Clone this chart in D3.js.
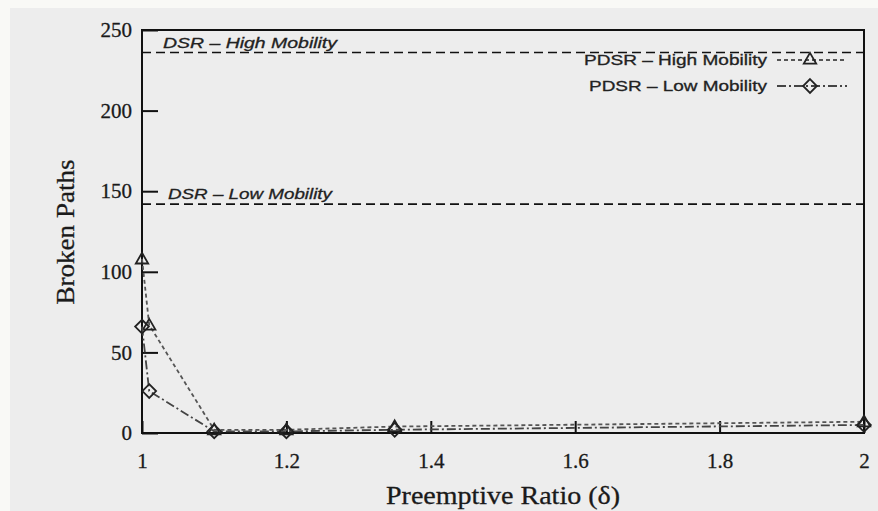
<!DOCTYPE html>
<meta charset="utf-8">
<style>
  body { margin: 0; background: #ededed; }
  svg { display: block; }
</style>
<svg width="878" height="511"></svg>
<script src="https://d3js.org/d3.v7.min.js"></script>
<script>

// values
var ratios   = [1, 1.01, 1.1, 1.2, 1.35, 2];
var pdsrHigh = [108, 67, 2, 2, 4, 7];
var pdsrLow  = [66, 26, 1, 1, 2, 5];
var dsrHigh  = 236;
var dsrLow   = 142;
var xTicks = [1, 1.2, 1.4, 1.6, 1.8, 2];
var yTicks = [0, 50, 100, 150, 200, 250];

var svg = d3.select("svg"),
    margin = {top: 30, right: 14, bottom: 78, left: 142},
    width = +svg.attr("width") - margin.left - margin.right,
    height = +svg.attr("height") - margin.top - margin.bottom;

// paper edge strips
svg.append("rect").attr("width", 878).attr("height", 511).attr("fill", "#ededed");
svg.append("rect").attr("width", 878).attr("height", 8).attr("fill", "#f9f9f6");
svg.append("rect").attr("width", 10).attr("height", 511).attr("fill", "#f9f9f6");

var g = svg.append("g").attr("transform", "translate(" + margin.left + "," + margin.top + ")");

var x = d3.scaleLinear().domain([1, 2]).range([0, width]);
var y = d3.scaleLinear().domain([0, 250]).range([height, 0]);

// axes, gnuplot style: ticks pointing inwards
var yAxis = g.append("g")
    .call(d3.axisLeft(y).tickValues(yTicks).tickSizeInner(-16).tickSizeOuter(0).tickPadding(10));
var xAxis = g.append("g")
    .attr("transform", "translate(0," + height + ")")
    .call(d3.axisBottom(x).tickValues(xTicks).tickFormat(d3.format("")).tickSizeInner(-12).tickSizeOuter(0).tickPadding(20));

[yAxis, xAxis].forEach(function(a) {
  a.select(".domain").remove();
  a.selectAll(".tick line").attr("stroke", "#111").attr("stroke-width", 2);
  a.selectAll(".tick text")
      .attr("font-family", "Liberation Serif, serif")
      .attr("font-size", 21)
      .attr("fill", "#1a1a1a")
      .attr("stroke", "#1a1a1a")
      .attr("stroke-width", 0.3);
});

// frame
g.append("rect")
    .attr("width", width)
    .attr("height", height)
    .attr("fill", "none")
    .attr("stroke", "#111")
    .attr("stroke-width", 2);

// DSR reference lines
[[dsrHigh, "DSR – High Mobility"], [dsrLow, "DSR – Low Mobility"]].forEach(function(d, i) {
  g.append("line")
      .attr("x1", 0).attr("x2", width)
      .attr("y1", y(d[0])).attr("y2", y(d[0]))
      .attr("stroke", "#111")
      .attr("stroke-width", 1.6)
      .attr("stroke-dasharray", "9,5");
  g.append("text")
      .attr("x", i == 0 ? 21 : 26)
      .attr("y", y(d[0]) - 5)
      .attr("font-family", "Liberation Sans, Arial, sans-serif")
      .attr("font-style", "italic")
      .attr("font-size", 15)
      .attr("textLength", i == 0 ? 174 : 164)
      .attr("lengthAdjust", "spacingAndGlyphs")
      .attr("fill", "#222")
      .attr("stroke", "#222")
      .attr("stroke-width", 0.3)
      .text(d[1]);
});

var series = [
  {name: "PDSR – High Mobility", values: pdsrHigh, dash: "4,3", color: "#555", marker: "triangle", len: 183},
  {name: "PDSR – Low Mobility", values: pdsrLow, dash: "9,3,2,3", color: "#444", marker: "diamond", len: 178}
];

var line = d3.line()
    .x(function(d) { return x(d[0]); })
    .y(function(d) { return y(d[1]); });

function marker(sel, type) {
  sel.append("path")
      .attr("d", d3.symbol().type(type == "triangle" ? d3.symbolTriangle2 : d3.symbolDiamond2).size(type == "triangle" ? 110 : 120))
      .attr("fill", "none")
      .attr("stroke", "#222")
      .attr("stroke-width", 1.8);
}

series.forEach(function(s) {
  var pts = ratios.map(function(r, i) { return [r, s.values[i]]; });
  g.append("path")
      .datum(pts)
      .attr("d", line)
      .attr("fill", "none")
      .attr("stroke", s.color)
      .attr("stroke-width", 1.8)
      .attr("stroke-dasharray", s.dash);
  g.selectAll(null)
      .data(pts)
    .enter().append("g")
      .attr("transform", function(d) { return "translate(" + x(d[0]) + "," + (y(d[1]) + (s.marker == "triangle" ? 1 : 0)) + ")"; })
      .each(function() { marker(d3.select(this), s.marker); });
});

// legend
var legend = g.append("g").attr("transform", "translate(" + (width - 97) + ",0)");
series.forEach(function(s, i) {
  var ly = 30 + i * 26;
  legend.append("text")
      .attr("x", 0)
      .attr("y", ly)
      .attr("dy", "0.35em")
      .attr("text-anchor", "end")
      .attr("font-family", "Liberation Sans, Arial, sans-serif")
      .attr("font-size", 15)
      .attr("textLength", s.len)
      .attr("lengthAdjust", "spacingAndGlyphs")
      .attr("fill", "#222")
      .attr("stroke", "#222")
      .attr("stroke-width", 0.3)
      .text(s.name);
  legend.append("line")
      .attr("x1", 10).attr("x2", 80)
      .attr("y1", ly).attr("y2", ly)
      .attr("stroke", s.color)
      .attr("stroke-width", 1.8)
      .attr("stroke-dasharray", s.dash);
  marker(legend.append("g").attr("transform", "translate(43," + ly + ")"), s.marker);
});

// axis titles
g.append("text")
    .attr("x", width / 2)
    .attr("y", height + 71)
    .attr("text-anchor", "middle")
    .attr("font-family", "Liberation Serif, serif")
    .attr("font-size", 25)
    .attr("textLength", 234)
    .attr("lengthAdjust", "spacingAndGlyphs")
    .attr("fill", "#1a1a1a")
    .attr("stroke", "#1a1a1a")
    .attr("stroke-width", 0.3)
    .text("Preemptive Ratio (δ)");

g.append("text")
    .attr("transform", "rotate(-90)")
    .attr("x", -202)
    .attr("y", -68)
    .attr("text-anchor", "middle")
    .attr("font-family", "Liberation Serif, serif")
    .attr("font-size", 25)
    .attr("textLength", 145)
    .attr("lengthAdjust", "spacingAndGlyphs")
    .attr("fill", "#1a1a1a")
    .attr("stroke", "#1a1a1a")
    .attr("stroke-width", 0.3)
    .text("Broken Paths");

</script>
